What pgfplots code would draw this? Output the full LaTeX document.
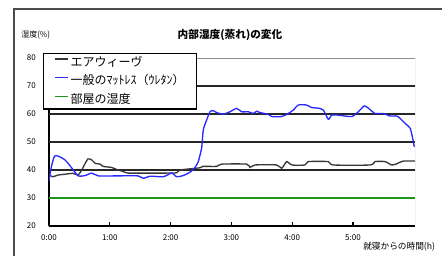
\documentclass[border=0pt]{standalone}
\usepackage{fontspec}
\setmainfont{Noto Sans CJK JP}
\usepackage{pgfplots}
\pgfplotsset{compat=1.18}
\definecolor{myblue}{RGB}{40,40,255}
\definecolor{mydark}{RGB}{55,55,55}
\definecolor{mygreen}{RGB}{30,150,30}
\begin{document}
\begin{tikzpicture}
\useasboundingbox (0,0) rectangle (331.5pt,191.25pt);
\draw[black!70, line width=0.8pt] (10.5pt,-2pt) -- (10.5pt,184.5pt) -- (334pt,184.5pt);
\begin{axis}[
  at={(36.75pt,21.75pt)}, anchor=south west,
  scale only axis, width=274.5pt, height=126pt,
  xmin=0, xmax=6.02, ymin=20, ymax=80,
  axis lines=left,
  axis line style={-, black, line width=1.3pt},
  xtick={0,1,2,3,4,5},
  xticklabels={0:00,1:00,2:00,3:00,4:00,5:00},
  ytick={20,30,40,50,60,70,80},
  tick align=inside,
  major tick length=3pt,
  xtick style={black, line width=0.8pt},
  ytick style={draw=none},
  extra y ticks={30,40,50,60,70},
  extra y tick labels={},
  extra y tick style={grid=major, major grid style={black!85, line width=0.9pt}, major tick length=0pt},
  /pgf/number format/assume math mode=true,
  ticklabel style={font=\fontsize{6}{7}\selectfont},
  yticklabel style={inner sep=0pt, anchor=east, xshift=-9.75pt},
  xticklabel style={inner sep=0pt, anchor=north, yshift=-6.5pt},
  legend style={
    at={(-0.0164,1.0298)}, anchor=north west,
    draw=black, line width=1pt, fill=white,
    font=\fontsize{9}{10}\selectfont,
    inner xsep=8.1pt, inner ysep=1.5pt,
    row sep=3.6pt,
    nodes={inner sep=1.1pt, text height=6.7pt, text depth=1.5pt},
  },
  legend cell align=left,
]
\addplot[color=mydark, line width=1pt, smooth, tension=0.4,
  legend image code/.code={\draw[draw=mydark, line width=1.2pt] (0pt,2.7pt) -- (9.75pt,2.7pt);}] coordinates {
(0.000,38.2) (0.066,37.6) (0.148,38.2) (0.263,38.5) (0.395,38.8) (0.477,38.2)
(0.538,40.0) (0.637,43.9) (0.702,43.6) (0.757,42.4) (0.839,42.1) (0.888,41.3)
(1.031,40.9) (1.135,40.0) (1.217,39.5) (1.299,38.9) (1.579,38.9) (1.900,38.9)
(2.100,39.0) (2.155,40.0) (2.484,40.8) (2.533,41.3) (2.758,41.3) (2.840,42.1)
(3.252,42.1) (3.306,40.9) (3.388,41.8) (3.745,41.8) (3.827,40.6) (3.910,43.0)
(3.992,41.8) (4.211,41.8) (4.265,43.0) (4.594,43.0) (4.676,41.8) (5.280,41.8)
(5.362,43.0) (5.526,43.0) (5.636,41.8) (5.719,42.2) (5.827,43.2) (6.020,43.2)
};
\addlegendentry{エアウィーヴ}
\addplot[color=myblue, line width=1pt, smooth, tension=0.4,
  legend image code/.code={\draw[draw=myblue, line width=1.2pt] (0pt,2.7pt) -- (9.75pt,2.7pt);}] coordinates {
(0.000,36.0) (0.033,40.5) (0.099,45.1) (0.263,43.6) (0.400,40.0) (0.482,37.9)
(0.592,38.0) (0.702,38.9) (0.811,37.9) (1.100,37.9) (1.464,37.9) (1.551,37.0)
(1.661,37.8) (1.880,37.6) (2.018,38.9) (2.100,37.6) (2.204,38.0) (2.319,39.2)
(2.401,40.9) (2.456,43.0) (2.484,45.4) (2.512,48.0) (2.538,54.3) (2.594,57.9)
(2.648,60.8) (2.702,61.2) (2.758,60.5) (2.867,60.0) (2.977,60.8) (3.087,62.0)
(3.169,60.8) (3.278,60.8) (3.360,60.2) (3.416,61.0) (3.470,60.5) (3.607,59.9)
(3.663,59.1) (3.827,59.1) (3.936,60.2) (4.018,61.4) (4.100,63.2) (4.238,63.2)
(4.321,62.3) (4.429,62.1) (4.512,61.4) (4.594,58.1) (4.650,59.6) (4.758,59.6)
(4.979,59.1) (5.087,60.8) (5.186,62.9) (5.252,62.1) (5.362,60.2) (5.498,60.2)
(5.609,59.3) (5.719,59.3) (5.773,58.5) (5.855,56.7) (5.938,55.0) (5.975,52.0)
(6.008,48.3)
};
\addlegendentry{一般のﾏｯﾄﾚｽ（ｳﾚﾀﾝ）}
\addplot[color=mygreen, line width=0.9pt,
  legend image code/.code={\draw[draw=mygreen, line width=1.2pt] (0pt,2.7pt) -- (9.75pt,2.7pt);}] coordinates {(0,30) (6.02,30)};
\addlegendentry{部屋の湿度}
\draw[black!45, line width=0.6pt] (rel axis cs:0,1) -- (rel axis cs:1,1) -- (rel axis cs:1,0);
\end{axis}
\node[font=\bfseries\fontsize{8}{9}\selectfont] at (172.5pt,165pt) {内部湿度(蒸れ)の変化};
\node[anchor=west, inner sep=0pt, font=\fontsize{6}{7}\selectfont] at (15.75pt,165pt) {湿度(\%)};
\node[anchor=west, inner sep=0pt, font=\fontsize{6.5}{7}\selectfont] at (272.25pt,6pt) {就寝からの時間(h)};
\end{tikzpicture}
\end{document}
